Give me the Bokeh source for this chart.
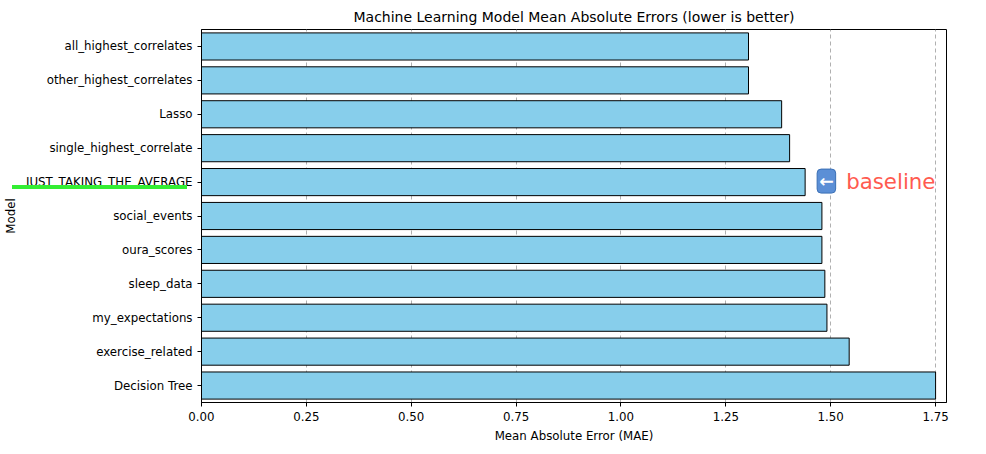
from bokeh.plotting import figure
from bokeh.models import FixedTicker, Label, ColumnDataSource, CustomJSTickFormatter, Div
from bokeh.layouts import column
from bokeh.embed import file_html
from bokeh.resources import INLINE

models = ["all_highest_correlates", "other_highest_correlates", "Lasso", "single_highest_correlate",
          "JUST_TAKING_THE_AVERAGE", "social_events", "oura_scores", "sleep_data",
          "my_expectations", "exercise_related", "Decision Tree"]
mae = [1.304, 1.304, 1.383, 1.402, 1.439, 1.479, 1.479, 1.486, 1.491, 1.544, 1.750]
xticks = [0.0, 0.25, 0.5, 0.75, 1.0, 1.25, 1.5, 1.75]

n = len(models)
ypos = [n - 1 - i for i in range(n)]
src = ColumnDataSource(dict(y=ypos, mae=mae))

FONT = "DejaVu Sans"
FS = "11.8px"
p = figure(width=968, height=444, output_backend="svg", toolbar_location=None,
           x_range=(0, 1.776), y_range=(-0.5, 10.5),
           title="Machine Learning Model Mean Absolute Errors (lower is better)",
           x_axis_label="Mean Absolute Error (MAE)", y_axis_label="Model",
           min_border_left=187, min_border_right=22, min_border_top=8)
p.title.align = "center"
p.title.text_font = FONT
p.title.text_font_size = "14px"
p.title.text_font_style = "normal"
p.title.text_color = "black"
p.hbar(y="y", right="mae", left=0, height=0.8, source=src,
       fill_color="#87ceeb", line_color="black", line_width=1)

p.xaxis.ticker = FixedTicker(ticks=xticks)
p.xaxis.formatter = CustomJSTickFormatter(code="return tick.toFixed(2);")
p.yaxis.ticker = FixedTicker(ticks=ypos)
p.yaxis.major_label_overrides = {y: m for y, m in zip(ypos, models)}
for ax in (p.xaxis[0], p.yaxis[0]):
    ax.major_label_text_font = FONT
    ax.major_label_text_font_size = FS
    ax.major_label_text_color = "black"
    ax.axis_label_text_font = FONT
    ax.axis_label_text_font_size = FS
    ax.axis_label_text_font_style = "normal"
    ax.axis_label_text_color = "black"
    ax.minor_tick_line_color = None
    ax.major_tick_out = 4
    ax.major_tick_in = 0
    ax.axis_line_color = "black"
    ax.major_tick_line_color = "black"
p.ygrid.grid_line_color = None
p.xgrid.grid_line_dash = "4 3"
p.xgrid.grid_line_color = "#b0b0b0"
p.outline_line_color = "black"

jy = ypos[models.index("JUST_TAKING_THE_AVERAGE")]
jx = mae[models.index("JUST_TAKING_THE_AVERAGE")]
# arrow badge
p.add_layout(Label(x=jx, y=jy, x_offset=12, y_offset=-11, text="\u2190",
                   text_font=FONT, text_font_size="13pt", text_color="white",
                   text_font_style="bold",
                   background_fill_color="#5b8fd6", border_line_color="#3a6fb5",
                   padding=2, border_radius=4))
p.add_layout(Label(x=jx, y=jy, x_offset=41, y_offset=-12, text="baseline",
                   text_font=FONT, text_font_size="16pt", text_color="#ff5a4f"))

# green underline beneath the baseline tick label (outside the plot frame)
marker = Div(width=1, height=1, margin=0,
             text='<div style="position:absolute;left:12px;top:185px;width:175px;'
                  'height:4px;background:#33ee33;z-index:10"></div>')
lay = column(marker, p, spacing=0)

open("out.html", "w").write(file_html(lay, INLINE))
